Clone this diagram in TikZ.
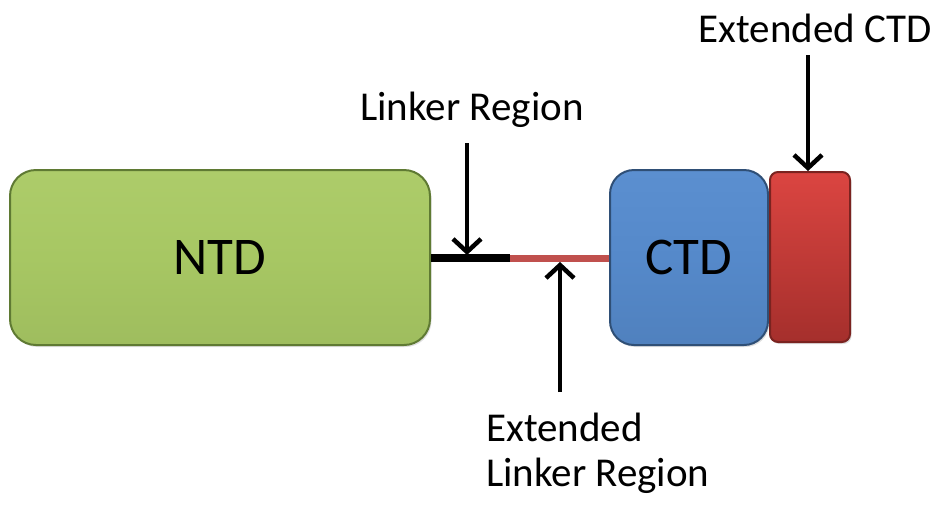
\documentclass[tikz,border=0pt]{standalone}
\usepackage{fontspec}
\setmainfont{Carlito}
\usetikzlibrary{arrows.meta,shadows}
\definecolor{ntdfill}{HTML}{A7C763}
\definecolor{ntdtop}{HTML}{ADCC6A}
\definecolor{ntdedge}{HTML}{5F7A33}
\definecolor{ctdfill}{HTML}{5589CA}
\definecolor{ctdtop}{HTML}{5B8FD0}
\definecolor{ctdedge}{HTML}{2F4F76}
\definecolor{extop}{HTML}{DB4541}
\definecolor{exbot}{HTML}{A52F2C}
\definecolor{exedge}{HTML}{7A2320}
\definecolor{linkred}{HTML}{C0504D}
\tikzset{
  dombox/.style={draw, line width=2pt, inner sep=0pt, font=\fontsize{53}{60}\selectfont,
    drop shadow={opacity=0.25, shadow xshift=1.5pt, shadow yshift=-2pt}},
  lab/.style={font=\fontsize{41}{45}\selectfont, inner sep=0pt},
  pointer/.style={line width=4.5pt, -{Straight Barb[length=13pt,width=28pt,line width=4.5pt]}},
}
\begin{document}
\begin{tikzpicture}[x=1pt,y=-1pt]
\useasboundingbox (0,0) rectangle (941,504);
% domains
\node[dombox, draw=ntdedge, top color=ntdtop, bottom color=ntdfill!95!black, middle color=ntdfill,
      rounded corners=26pt, minimum width=420pt, minimum height=175pt] (ntd) at (220,257.5) {NTD};
\node[dombox, draw=ctdedge, top color=ctdtop, bottom color=ctdfill!94!black, middle color=ctdfill,
      rounded corners=24pt, minimum width=158pt, minimum height=175pt] (ctd) at (689,257.5) {CTD};
\node[dombox, draw=exedge, top color=extop, bottom color=exbot,
      rounded corners=8pt, minimum width=80pt, minimum height=170pt] (ext) at (810,257) {};
% linker segments
\coordinate (join) at (510,258);
\draw[line width=8pt] (ntd.east |- join) -- (join);
\draw[line width=7pt, linkred] (join) -- (ctd.west |- join);
% labels and pointers
\node[lab] (linklab) at (472,110) {Linker Region};
\coordinate (linktail) at (467,143);
\coordinate (linkhead) at (467,255);
\draw[pointer] (linktail) -- (linkhead);

\node[lab, anchor=north west, align=left] (extlinklab) at (486,413) {Extended\\Linker Region};
\coordinate (extlinktail) at (560,392);
\coordinate (extlinkhead) at (560,262);
\draw[pointer] (extlinktail) -- (extlinkhead);

\node[lab] (extctdlab) at (815,28) {Extended CTD};
\coordinate (extctdtail) at (808,55);
\draw[pointer] (extctdtail) -- (ext.north -| extctdtail);
\end{tikzpicture}
\end{document}
